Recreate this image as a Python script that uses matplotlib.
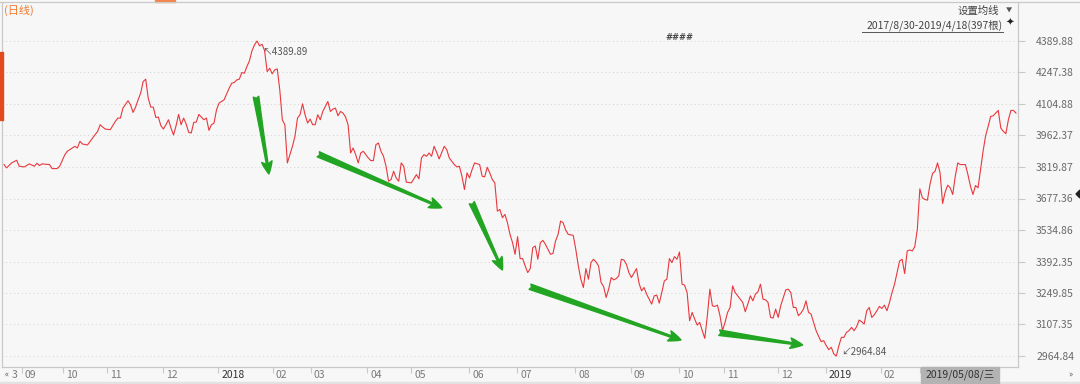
import matplotlib
matplotlib.use('Agg')
import matplotlib.pyplot as plt
import matplotlib.transforms as mtransforms
from matplotlib.lines import Line2D
from matplotlib.patches import Rectangle, Polygon

plt.rcParams['font.family'] = ['Noto Sans CJK SC', 'DejaVu Sans']

# trading-day index and closing value
day = [0, 1, 3, 5, 6, 8, 10, 12, 13, 14, 15, 18, 19, 21, 22, 24, 25, 27, 28, 29,
       30, 31, 33, 35, 37, 38, 39, 40, 42, 44, 45, 46, 47, 49, 50, 51, 52, 53, 54, 55,
       56, 57, 58, 59, 60, 61, 62, 63, 64, 65, 66, 67, 68, 69, 70, 71, 72, 73, 74, 75,
       76, 77, 78, 79, 80, 81, 82, 83, 84, 85, 87, 88, 89, 90, 91, 92, 93, 94, 95, 96,
       97, 98, 99, 100, 101, 102, 103, 104, 105, 106, 107, 108, 109, 110, 111, 112, 114, 115, 116, 117,
       118, 119, 120, 121, 122, 123, 124, 125, 126, 128, 129, 130, 131, 132, 133, 134, 135, 136, 137, 138,
       139, 140, 141, 142, 144, 145, 146, 147, 148, 149, 150, 151, 152, 153, 154, 155, 156, 157, 158, 159,
       161, 162, 163, 164, 165, 166, 167, 168, 169, 170, 171, 172, 174, 175, 176, 178, 179, 180, 181, 182,
       183, 184, 185, 186, 188, 189, 190, 191, 192, 193, 194, 195, 196, 197, 198, 199, 200, 201, 202, 203,
       204, 205, 206, 207, 208, 209, 210, 211, 212, 213, 214, 215, 216, 217, 218, 219, 220, 221, 222, 223,
       225, 226, 227, 228, 229, 230, 231, 232, 233, 234, 235, 236, 237, 238, 239, 240, 241, 242, 243, 244,
       245, 246, 247, 248, 250, 251, 252, 253, 254, 255, 256, 257, 258, 259, 260, 261, 262, 263, 264, 265,
       266, 267, 268, 269, 270, 271, 272, 273, 274, 275, 276, 277, 278, 279, 280, 281, 282, 283, 284, 285,
       286, 287, 288, 289, 291, 292, 293, 294, 295, 296, 297, 298, 299, 300, 301, 302, 303, 304, 305, 306,
       307, 309, 310, 311, 312, 313, 314, 315, 316, 317, 318, 319, 320, 321, 322, 323, 324, 325, 326, 327,
       328, 329, 330, 331, 332, 333, 334, 335, 336, 337, 338, 339, 340, 341, 342, 343, 344, 345, 346, 347,
       348, 349, 350, 351, 352, 353, 354, 355, 356, 357, 358, 359, 360, 361, 362, 363, 364, 365, 366, 367,
       368, 369, 370, 371, 372, 373, 374, 375, 376, 377, 378, 380, 381, 382, 383, 384, 385, 386, 387, 388,
       389, 390, 391, 392, 393, 394, 395, 396, 397, 398, 399, 400]
close = [3830.8, 3815.8, 3838.3, 3850.3, 3823.3, 3820.2, 3833.8, 3823.3, 3836.8, 3826.3,
         3833.8, 3830.8, 3812.7, 3812.7, 3823.3, 3874.4, 3890.9, 3905.9, 3913.4, 3905.9,
         3936.0, 3924.0, 3919.5, 3951.0, 3981.1, 4011.1, 4000.6, 3991.6, 3988.6, 4026.2,
         4041.2, 4041.2, 4086.3, 4119.4, 4101.3, 4066.8, 4090.8, 4123.9, 4153.9, 4206.5,
         4217.1, 4131.4, 4090.8, 4090.8, 4044.2, 4045.7, 4006.6, 3991.6, 4011.1, 4033.7,
         3996.1, 3964.6, 4006.6, 4057.7, 4011.1, 4041.2, 4014.1, 3976.6, 3973.6, 4021.7,
         4023.2, 4057.7, 4045.7, 4033.7, 4041.2, 3985.6, 4011.1, 4018.7, 4078.8, 4108.8,
         4123.9, 4150.9, 4176.5, 4199.0, 4202.0, 4214.0, 4217.1, 4247.1, 4244.1, 4274.2,
         4300.0, 4345.0, 4372.0, 4389.89, 4368.0, 4375.0, 4346.0, 4251.6, 4266.6, 4241.1,
         4259.1, 4263.6, 4168.9, 4033.7, 4011.1, 3838.3, 3913.4, 3958.5, 4041.2, 4056.2,
         4105.8, 4056.2, 4018.6, 4036.7, 4011.1, 4011.1, 4056.2, 4033.7, 4071.2, 4116.3,
         4071.2, 4081.8, 4086.3, 4051.7, 4071.2, 4063.7, 4045.7, 4011.1, 3883.4, 3905.9,
         3875.8, 3838.3, 3883.4, 3890.9, 3860.8, 3848.8, 3848.8, 3920.9, 3928.4, 3890.9,
         3868.3, 3823.3, 3755.6, 3763.1, 3800.7, 3770.6, 3755.6, 3838.3, 3823.3, 3751.1,
         3748.1, 3766.1, 3785.7, 3766.1, 3860.8, 3875.8, 3868.3, 3883.4, 3868.3, 3913.4,
         3886.4, 3856.3, 3913.4, 3898.4, 3860.8, 3830.8, 3820.2, 3823.3, 3778.1, 3718.0,
         3793.2, 3770.6, 3808.2, 3838.3, 3830.8, 3778.1, 3775.1, 3818.7, 3793.2, 3763.1,
         3748.1, 3620.3, 3627.8, 3590.3, 3605.3, 3567.7, 3515.1, 3477.6, 3424.9, 3504.6,
         3405.4, 3405.4, 3372.4, 3342.3, 3360.3, 3455.0, 3462.5, 3402.4, 3477.6, 3488.1,
         3470.1, 3447.5, 3424.9, 3429.4, 3485.1, 3515.1, 3575.3, 3567.7, 3534.6, 3515.1,
         3510.6, 3447.5, 3372.4, 3312.2, 3274.6, 3360.3, 3312.2, 3387.4, 3402.4, 3390.4,
         3372.4, 3297.2, 3279.1, 3229.5, 3267.1, 3319.7, 3309.2, 3315.2, 3327.2, 3402.4,
         3399.4, 3379.9, 3342.3, 3319.7, 3360.3, 3294.2, 3259.6, 3274.6, 3244.6, 3222.0,
         3199.5, 3237.1, 3240.1, 3204.0, 3252.1, 3304.7, 3312.2, 3405.4, 3387.4, 3414.4,
         3402.4, 3435.5, 3289.7, 3285.2, 3252.1, 3124.4, 3162.0, 3131.9, 3104.8, 3116.8,
         3079.3, 3044.7, 3146.9, 3267.1, 3192.0, 3189.0, 3195.0, 3146.9, 3079.3, 3116.8,
         3162.0, 3184.5, 3282.2, 3252.1, 3222.0, 3207.0, 3165.0, 3199.5, 3237.1, 3214.5,
         3244.6, 3255.1, 3289.7, 3222.0, 3219.0, 3207.0, 3139.4, 3136.4, 3177.0, 3139.4,
         3192.0, 3264.1, 3267.1, 3252.1, 3184.5, 3184.5, 3146.9, 3158.9, 3177.0, 3214.5,
         3162.0, 3154.4, 3116.8, 3079.3, 3053.7, 3029.7, 3034.2, 3011.6, 2993.6, 3004.1,
         2974.0, 2964.84, 3011.6, 3049.2, 3049.2, 3071.7, 3079.3, 3094.3, 3079.3, 3097.3,
         3127.4, 3119.8, 3109.3, 3169.5, 3184.5, 3139.4, 3151.4, 3169.5, 3189.0, 3180.0,
         3195.0, 3169.5, 3207.0, 3252.1, 3289.7, 3342.3, 3394.9, 3402.4, 3337.8, 3439.9,
         3444.5, 3439.9, 3459.5, 3537.6, 3721.0, 3680.5, 3672.9, 3669.9, 3740.6, 3790.2,
         3800.7, 3838.3, 3793.2, 3654.9, 3706.0, 3737.6, 3725.6, 3695.5, 3778.1, 3838.3,
         3830.8, 3830.8, 3785.7, 3733.1, 3695.5, 3736.1, 3725.6, 3808.2, 3890.9, 3961.5,
         4003.6, 4048.7, 4051.7, 4063.7, 4075.8, 3996.1, 3981.1, 3970.6, 4033.7, 4075.8,
         4075.8, 4063.7]

ytick_values = [4389.88, 4247.38, 4104.88, 3962.37, 3819.87, 3677.36,
                3534.86, 3392.35, 3249.85, 3107.35, 2964.84]
month_pos = [7.1, 23.3, 40.7, 62.8, 84.6, 106.3, 121.3, 143.5, 160.9, 183.8,
             202.8, 225.7, 247.8, 266.8, 284.6, 305.9, 324.9, 346.6, 362.1]
# the March 2019 label sits under the date box in the picture
month_labels = ['09', '10', '11', '12', '2018', '02', '03', '04', '05', '06',
                '07', '08', '09', '10', '11', '12', '2019', '02', '']

# green trend arrows (start -> end, in day / value)
arrow_from = [(99.6, 4137.9), (124.2, 3877.3), (184.9, 3658.3), (207.9, 3278.3), (282.7, 3070.2)]
arrow_to = [(104.7, 3788.2), (173.0, 3635.7), (197.0, 3353.9), (267.6, 3037.2), (315.7, 3014.6)]

W, H = 1080, 384
bg = '#f7f7f7'
edge = '#c9c9c9'
fig = plt.figure(figsize=(W / 100, H / 100), dpi=100, facecolor=bg)
ax = fig.add_axes([2 / W, 17 / H, 1016 / W, 365 / H])
ax.set_facecolor(bg)

ax.plot(day, close, color='#e8383d', lw=0.8, zorder=3)

# y scale: top tick sits 39px below the top edge, bottom tick 11px above the x axis
unit = (ytick_values[0] - ytick_values[-1]) / 315
ax.set_ylim(ytick_values[-1] - 11 * unit, ytick_values[0] + 39 * unit)
ax.set_xlim(-0.8, 400.8)

ax.yaxis.tick_right()
ax.set_yticks(ytick_values)
ax.set_yticklabels(['%.2f' % v for v in ytick_values])
ax.tick_params(axis='y', length=5, width=0.8, color=edge, pad=8,
               labelsize=7.5, labelcolor='#6a6a6a')
ax.yaxis.grid(True, linestyle=(0, (1, 3)), color='#d2d2d2', lw=0.7)

ax.set_xticks(month_pos)
ax.set_xticklabels([])
ax.tick_params(axis='x', length=4, width=0.8, color=edge)
trans = mtransforms.blended_transform_factory(ax.transData, ax.transAxes) + \
    mtransforms.ScaledTranslation(0.03, -0.035, fig.dpi_scale_trans)
for p, lab in zip(month_pos, month_labels):
    if not lab:
        continue
    col = '#333333' if len(lab) == 4 else '#7a7a7a'
    ax.text(p, 0, lab, transform=trans, ha='left', va='top', fontsize=7.5, color=col)

for s in ['left', 'right', 'bottom']:
    ax.spines[s].set_color(edge)
    ax.spines[s].set_linewidth(0.9)
ax.spines['top'].set_visible(False)

# high / low labels
imax = close.index(max(close))
imin = close.index(min(close))
ax.annotate('↖%.2f' % close[imax], xy=(day[imax], close[imax]), xytext=(3.5, -8),
            textcoords='offset points', va='center', fontsize=7, color='#555555')
ax.annotate('↙%.2f' % close[imin], xy=(day[imin], close[imin]), xytext=(3.5, 3),
            textcoords='offset points', va='center', fontsize=7, color='#555555')

for a, b in zip(arrow_from, arrow_to):
    ax.annotate('', xy=b, xytext=a,
                arrowprops=dict(arrowstyle='fancy,head_length=0.9,head_width=0.75,tail_width=0.4',
                                color='#22a522', shrinkA=0, shrinkB=0), zorder=4)


def px(x, y):
    return x / W, 1 - y / H


# frame bits around the chart
fig.add_artist(Line2D([0, 1], [1 - 1.5 / H] * 2, color=edge, lw=0.9))
fig.add_artist(Rectangle(px(155, 2), 20 / W, 2 / H, color='#f5844c'))
fig.add_artist(Rectangle(px(0, 120), 2.5 / W, 68 / H, color='#e2491d'))
fig.add_artist(Rectangle(px(0, 384), 1, 2.5 / H, color='#e2e2e2'))
fig.add_artist(Polygon([px(1080, 190), px(1076, 194), px(1080, 198)], closed=True, color='#222222'))

fig.text(*px(4, 10.5), '(日线)', color='#f07a2e', fontsize=8, va='center')
fig.text(*px(999, 10.5), '设置均线', color='#444444', fontsize=7.5, va='center', ha='right')
fig.text(*px(1009, 10.5), '▼', color='#555555', fontsize=4.5, va='center', ha='center')
fig.text(*px(1003, 25), '2017/8/30-2019/4/18(397根)', color='#444444', fontsize=7.5,
         va='center', ha='right')
fig.add_artist(Line2D([862 / W, 1003 / W], [1 - 31.5 / H] * 2, color='#555555', lw=0.7))
fig.text(*px(1010, 23), '✦', color='#222222', fontsize=7.5, va='center', ha='center')
fig.text(*px(679, 38), '####', color='#4a4a4a', fontsize=6, va='center', ha='center',
         weight='bold', family='DejaVu Sans')

fig.text(*px(5, 374), '«', color='#555555', fontsize=6, va='center')
fig.text(*px(12, 374.5), '3', color='#7a7a7a', fontsize=7.5, va='center')
fig.text(*px(1070, 374), '»', color='#555555', fontsize=6, va='center', ha='center')
fig.add_artist(Rectangle(px(921, 383), 78 / W, 16 / H, color='#b3b3b3', zorder=5))
fig.text(*px(960, 375), '2019/05/08/三', color='#333333', fontsize=7.5, va='center',
         ha='center', zorder=6)

fig.savefig('out.png', dpi=100, facecolor=bg)
